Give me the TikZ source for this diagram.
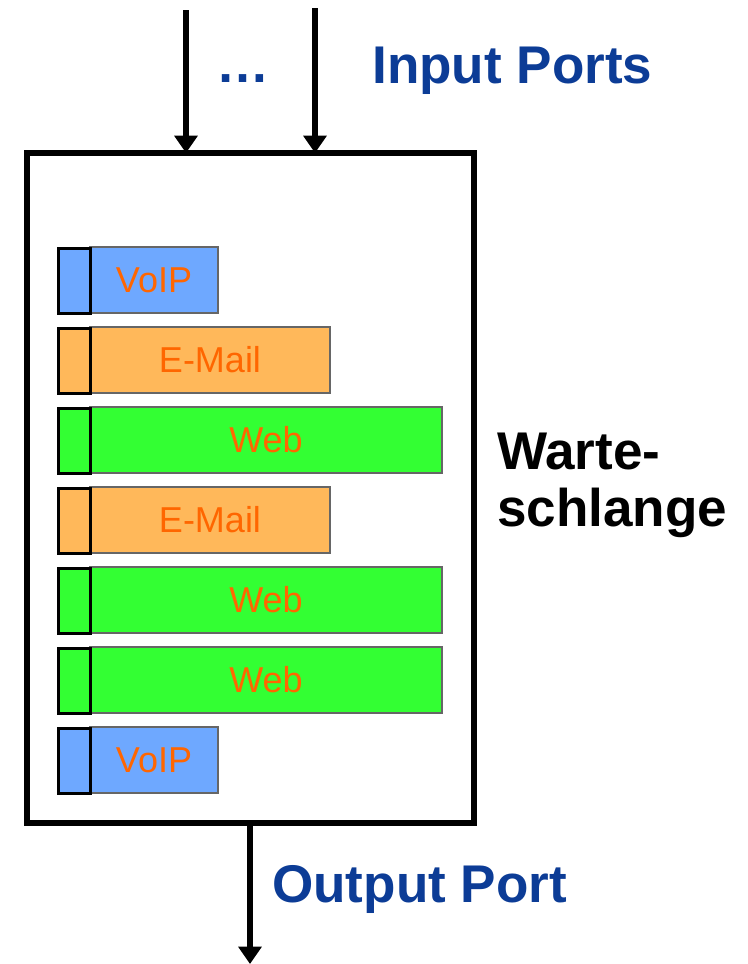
\documentclass[tikz,border=0pt]{standalone}
\usepackage{fontspec}
\setmainfont{Liberation Sans}
\definecolor{portblue}{RGB}{12,60,150}
\definecolor{voipblue}{RGB}{110,168,255}
\definecolor{mailorange}{RGB}{255,184,90}
\definecolor{webgreen}{RGB}{51,255,51}
\definecolor{labelorange}{RGB}{255,102,0}
\tikzset{
  packet/.style={draw=black!60, line width=0.8pt, anchor=north west, minimum height=49.5pt,
    inner sep=0pt, outer sep=0pt, text=labelorange, font=\fontsize{27}{30}\selectfont},
  tag/.style={draw=black, line width=2.2pt, anchor=north west, minimum width=24pt,
    minimum height=48.5pt, inner sep=0pt, outer sep=0pt},
  big/.style={font=\fontsize{39.8}{43}\selectfont\bfseries, anchor=base west, inner sep=0pt},
  flow/.style={line width=4pt, -{Triangle[width=17pt,length=13pt]}}
}
\usetikzlibrary{arrows.meta}
\begin{document}
\begin{tikzpicture}[x=0.75pt, y=-0.75pt]
            \useasboundingbox (0,0) rectangle (747,964);
            % queue
            \node[draw, line width=4.5pt, minimum width=335.25pt, minimum height=502.5pt,
              anchor=north west, inner sep=0pt, outer sep=0pt] (queue) at (27,153) {};
            % packets
            \node[packet, fill=voipblue, minimum width=96pt] (p1) at (90,247) {VoIP};
            \node[packet, fill=mailorange, minimum width=180pt] (p2) at (90,327) {E-Mail};
            \node[packet, fill=webgreen, minimum width=264pt] (p3) at (90,407) {Web};
            \node[packet, fill=mailorange, minimum width=180pt] (p4) at (90,487) {E-Mail};
            \node[packet, fill=webgreen, minimum width=264pt] (p5) at (90,567) {Web};
            \node[packet, fill=webgreen, minimum width=264pt] (p6) at (90,647) {Web};
            \node[packet, fill=voipblue, minimum width=96pt] (p7) at (90,727) {VoIP};
            \node[tag, fill=voipblue] (t1) at (58.5,248.5) {};
            \node[tag, fill=mailorange] (t2) at (58.5,328.5) {};
            \node[tag, fill=webgreen] (t3) at (58.5,408.5) {};
            \node[tag, fill=mailorange] (t4) at (58.5,488.5) {};
            \node[tag, fill=webgreen] (t5) at (58.5,568.5) {};
            \node[tag, fill=webgreen] (t6) at (58.5,648.5) {};
            \node[tag, fill=voipblue] (t7) at (58.5,728.5) {};
            % ports
            \coordinate (in1) at (186,10);
            \coordinate (in2) at (315,8);
            \coordinate (out) at (250,964);
            \draw[flow] (in1) -- (in1 |- queue.north);
            \draw[flow] (in2) -- (in2 |- queue.north);
            \draw[flow] (out |- queue.south) -- (out);
            % labels
            \node[big, text=portblue] (dots) at (216,82) {…};
            \node[big, text=portblue] (inlabel) at (372,83) {Input Ports};
            \node[big, text=portblue] (outlabel) at (272,902) {Output Port};
            \node[big] (warte) at (497,469) {Warte-};
            \node[big] (schlange) at (497,526) {schlange};
          \end{tikzpicture}
\end{document}
